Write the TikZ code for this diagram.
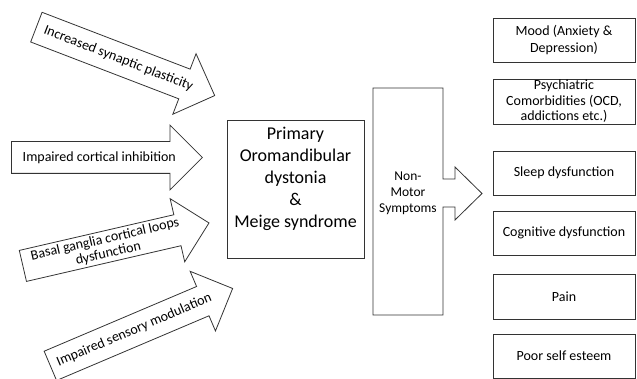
\documentclass[tikz,border=0pt]{standalone}
\usepackage{fontspec}
\setmainfont{Carlito}
\usetikzlibrary{shapes.arrows}
\usetikzlibrary{calc}

\tikzset{
    cause/.style={draw=black!80, line width=0.8pt, single arrow,
        single arrow head extend=16.5pt, minimum height=191pt,
        inner xsep=0pt, inner ysep=15.5pt, anchor=tail},
    causetext/.style={font=\fontsize{14}{14.5}\selectfont, align=center, inner sep=0pt},
    symptom/.style={draw=black!80, line width=0.8pt, minimum width=142pt,
        minimum height=44pt, inner sep=0pt, align=center,
        font=\fontsize{14}{17}\selectfont},
    outline/.style={draw=black!80, line width=0.8pt, line join=miter}
}

\begin{document}
\begin{tikzpicture}[x=1pt, y=-1pt]
    \useasboundingbox (0,0) rectangle (637,379);

    % Causes (block arrows)
    \node[cause, rotate=-21] (incr) at (36,27) {};
    \node[cause] (cort) at (11,157.5) {};
    \node[cause, rotate=13] (basal) at (22.5,266) {};
    \node[cause, minimum height=198pt, rotate=23] (sens) at (50,366) {};

    \node[causetext, rotate=-21] (incrtxt) at ($(incr.tail)!0.46!(incr.tip)$) {Increased synaptic plasticity};
    \node[causetext] (corttxt) at ($(cort.tail)!0.46!(cort.tip)$) {Impaired cortical inhibition};
    \node[causetext, rotate=13] (basaltxt) at ($(basal.tail)!0.45!(basal.tip)$) {Basal ganglia cortical loops\\dysfunction};
    \node[causetext, rotate=23] (senstxt) at ($(sens.tail)!0.46!(sens.tip)$) {Impaired sensory modulation};

    % Disorder
    \node[draw=black!80, line width=0.8pt, minimum width=137pt, minimum height=138pt] (dyst) at (295.5,189) {};
    \node[font=\fontsize{18}{22}\selectfont, align=center] (dysttxt) at (295.5,179) {Primary\\Oromandibular\\dystonia\\\&\\Meige syndrome};

    % Non-motor symptoms
    \node[font=\fontsize{13.5}{16}\selectfont, align=center] (nms) at (408,193) {Non-\\Motor\\Symptoms};
    \draw[outline] (373,88) -- (443,88) -- (443,179) -- (455,179) -- (455,167)
        -- (482,193.5) -- (455,220) -- (455,207) -- (443,207) -- (443,315)
        -- (373,315) -- cycle;

    % Symptoms
    \node[symptom] (mood) at (564,40) {Mood (Anxiety \&\\Depression)};
    \node[symptom, font=\fontsize{14}{15.5}\selectfont, minimum height=45pt] (psych) at (564,101.5) {Psychiatric\\Comorbidities (OCD,\\addictions etc.)};
    \node[symptom] (sleep) at (564,173) {Sleep dysfunction};
    \node[symptom] (cogn) at (564,233) {Cognitive dysfunction};
    \node[symptom, minimum height=45pt] (pain) at (564,296.5) {Pain};
    \node[symptom] (esteem) at (564,356) {Poor self esteem};
\end{tikzpicture}
\end{document}
